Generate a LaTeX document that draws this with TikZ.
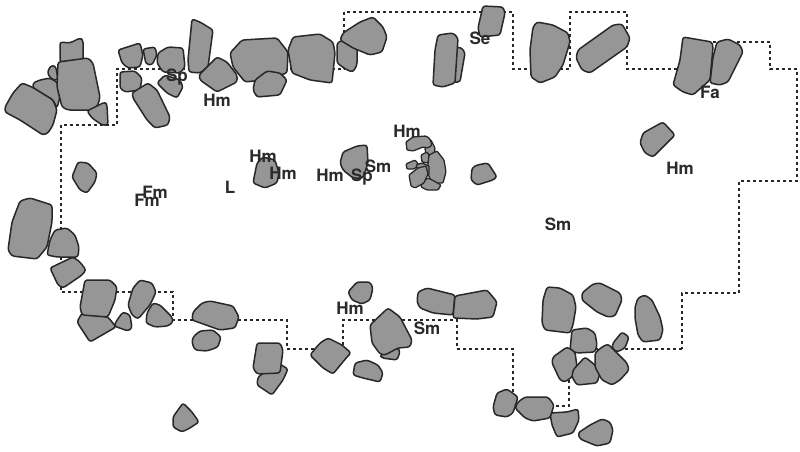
\documentclass[tikz,border=0pt]{standalone}
\usepackage{fontspec}
\setmainfont{TeX Gyre Heros}
\definecolor{stonefill}{RGB}{150,150,150}
\definecolor{stoneline}{RGB}{40,40,40}
\definecolor{labelcol}{RGB}{42,42,42}
\tikzset{
  stone/.style={fill=stonefill, draw=stoneline, line width=1.5pt, rounded corners=2.5pt, line join=round},
  pebble/.style={stone, line width=1.3pt, rounded corners=1pt},
  outline/.style={draw=stoneline, line width=1.2pt, dash pattern=on 3pt off 3pt},
  lab/.style={font=\fontsize{17}{17}\selectfont\bfseries, text=labelcol, inner sep=0pt}
}
\begin{document}
\begin{tikzpicture}[x=1pt,y=-1pt]
\useasboundingbox (0,0) rectangle (800,452);
% excavation outline
\draw[outline] (682,349) -- (569,349) -- (569,406) -- (513,406) -- (513,349) -- (457,349) -- (457,320) -- (343,320) -- (343,349) -- (287,349) -- (287,320) -- (173,320) -- (173,292) -- (61,292) -- (61,125) -- (117,125) -- (117,69) -- (344,69) -- (344,12) -- (513,12) -- (513,69) -- (570,69) -- (570,12) -- (627,12) -- (627,69) -- (710,69) -- (710,42) -- (770,42) -- (770,69) -- (797,69) -- (797,181) -- (739,181) -- (739,293) -- (682,293) -- cycle;
% top-left stones
\draw[stone] (33,83) -- (40,80) -- (50,78) -- (58,83) -- (60,97) -- (57,108) -- (53,100) -- (33,88) -- cycle;
\draw[stone] (5,107) -- (13,93) -- (22,83) -- (32,87) -- (53,100) -- (57,110) -- (53,125) -- (48,133) -- (43,135) -- (20,120) -- (5,112) -- cycle;
\draw[stone] (48,70) -- (52,65) -- (56,67) -- (58,80) -- (53,80) -- (48,75) -- cycle;
\draw[stone] (60,42) -- (70,43) -- (80,38) -- (83,40) -- (83,60) -- (60,62) -- cycle;
\draw[stone] (58,62) -- (88,58) -- (93,63) -- (100,97) -- (98,105) -- (93,110) -- (68,110) -- (62,107) -- (57,87) -- cycle;
\draw[stone] (87,111) -- (105,102) -- (107,105) -- (108,125) -- (102,125) -- (92,118) -- cycle;
\draw[stone] (118,50) -- (140,43) -- (143,55) -- (140,67) -- (128,68) -- (122,63) -- cycle;
\draw[stone] (143,49) -- (155,47) -- (157,55) -- (152,65) -- (146,64) -- cycle;
\draw[stone] (158,53) -- (168,47) -- (183,48) -- (185,67) -- (180,73) -- (163,72) -- (157,63) -- cycle;
\draw[stone] (192,19) -- (200,22) -- (213,30) -- (208,67) -- (200,73) -- (189,72) -- (188,60) -- cycle;
\draw[stone] (120,72) -- (135,71) -- (142,78) -- (140,90) -- (125,92) -- (120,88) -- cycle;
\draw[stone] (157,83) -- (165,75) -- (180,80) -- (183,87) -- (177,98) -- (167,93) -- cycle;
\draw[stone] (132,93) -- (148,83) -- (157,90) -- (170,117) -- (168,125) -- (155,128) -- (147,120) -- (133,98) -- cycle;
\draw[stone] (199,75) -- (217,57) -- (227,62) -- (237,75) -- (237,82) -- (217,92) -- (200,80) -- cycle;
\draw[stone] (230,53) -- (242,40) -- (277,38) -- (288,52) -- (287,73) -- (263,80) -- (245,82) -- (233,67) -- cycle;
\draw[stone] (255,80) -- (267,71) -- (280,73) -- (287,80) -- (280,95) -- (257,97) -- (253,90) -- cycle;
\draw[stone] (293,37) -- (320,34) -- (333,42) -- (335,53) -- (332,83) -- (310,80) -- (292,73) -- (288,50) -- cycle;
\draw[stone] (337,43) -- (343,40) -- (357,48) -- (357,65) -- (353,72) -- (347,70) -- (337,63) -- cycle;
\draw[stone] (343,33) -- (360,22) -- (373,17) -- (383,27) -- (387,37) -- (382,52) -- (370,55) -- (353,48) -- (340,40) -- cycle;
% middle stones
\draw[stone] (72,177) -- (78,162) -- (88,163) -- (97,173) -- (95,182) -- (87,193) -- (80,190) -- cycle;
\draw[stone] (257,163) -- (263,157) -- (275,160) -- (279,173) -- (277,183) -- (265,188) -- (253,183) -- cycle;
\draw[stone] (343,152) -- (357,146) -- (367,145) -- (368,163) -- (363,178) -- (353,178) -- (343,170) -- (340,163) -- cycle;
% top-right stones
\draw[stone] (483,6) -- (503,7) -- (505,13) -- (500,35) -- (480,37) -- (478,28) -- cycle;
\draw[stone] (455,47) -- (462,48) -- (465,53) -- (460,82) -- (453,82) -- cycle;
\draw[stone] (438,35) -- (453,33) -- (458,38) -- (455,83) -- (443,87) -- (433,85) -- (435,50) -- cycle;
\draw[stone] (537,22) -- (553,25) -- (568,33) -- (570,42) -- (563,65) -- (555,77) -- (540,83) -- (531,77) -- (530,50) -- (533,27) -- cycle;
\draw[stone] (578,50) -- (613,25) -- (622,24) -- (630,38) -- (627,47) -- (590,73) -- (582,70) -- (576,58) -- cycle;
\draw[stone] (683,37) -- (712,42) -- (713,47) -- (710,80) -- (702,87) -- (693,95) -- (683,92) -- (673,85) -- (680,60) -- cycle;
\draw[stone] (717,42) -- (728,39) -- (740,45) -- (743,52) -- (728,82) -- (720,85) -- (710,83) -- (713,57) -- cycle;
\draw[stone] (643,133) -- (663,122) -- (675,135) -- (653,157) -- (645,153) -- (640,143) -- cycle;
\draw[stone] (472,168) -- (477,165) -- (488,163) -- (497,177) -- (493,180) -- (477,185) -- (471,180) -- cycle;
% central cluster
\draw[pebble] (424,143) -- (431,140) -- (435,148) -- (434,156) -- (426,154) -- cycle;
\draw[pebble] (406,142) -- (413,137) -- (426,136) -- (430,139) -- (432,145) -- (428,148) -- (423,147) -- (413,151) -- (407,150) -- cycle;
\draw[pebble] (421,155) -- (427,152) -- (430,157) -- (428,163) -- (422,162) -- cycle;
\draw[pebble] (429,155) -- (437,151) -- (444,160) -- (446,172) -- (443,183) -- (432,183) -- (427,172) -- (428,164) -- cycle;
\draw[pebble] (406,164) -- (415,160) -- (419,165) -- (414,169) -- (407,169) -- cycle;
\draw[pebble] (416,165) -- (422,163) -- (429,166) -- (429,175) -- (421,176) -- cycle;
\draw[pebble] (422,182) -- (428,178) -- (434,181) -- (441,185) -- (438,190) -- (427,190) -- (421,187) -- cycle;
\draw[pebble] (409,175) -- (418,168) -- (426,166) -- (428,174) -- (424,183) -- (415,188) -- (411,186) -- cycle;
% lower-left stones
\draw[stone] (20,201) -- (30,198) -- (52,205) -- (52,222) -- (47,247) -- (37,259) -- (12,256) -- (8,250) -- (12,222) -- cycle;
\draw[stone] (55,230) -- (67,228) -- (75,235) -- (79,247) -- (78,257) -- (57,257) -- (47,255) -- (50,240) -- cycle;
\draw[stone] (50,268) -- (73,257) -- (80,262) -- (86,270) -- (82,275) -- (63,288) -- (58,285) -- cycle;
\draw[stone] (82,313) -- (108,317) -- (116,327) -- (90,342) -- (77,322) -- cycle;
\draw[stone] (85,280) -- (110,280) -- (117,287) -- (115,300) -- (108,317) -- (82,315) -- (80,307) -- cycle;
\draw[stone] (117,320) -- (123,312) -- (130,315) -- (132,328) -- (128,331) -- (114,326) -- cycle;
\draw[stone] (128,305) -- (133,288) -- (140,280) -- (152,283) -- (156,292) -- (150,305) -- (138,319) -- (132,315) -- cycle;
\draw[stone] (147,313) -- (153,303) -- (160,305) -- (172,317) -- (173,322) -- (168,326) -- (155,327) -- (146,323) -- cycle;
\draw[stone] (193,312) -- (202,303) -- (210,301) -- (233,306) -- (239,317) -- (235,328) -- (220,330) -- (192,320) -- cycle;
\draw[stone] (193,337) -- (200,331) -- (213,330) -- (221,337) -- (218,347) -- (207,351) -- (195,350) -- (192,343) -- cycle;
\draw[stone] (258,377) -- (278,363) -- (288,369) -- (283,380) -- (272,395) -- (257,385) -- cycle;
\draw[stone] (257,343) -- (280,343) -- (283,350) -- (280,373) -- (257,374) -- (253,368) -- cycle;
\draw[stone] (310,355) -- (320,343) -- (328,338) -- (342,345) -- (351,353) -- (347,357) -- (333,374) -- (323,368) -- cycle;
\draw[stone] (348,292) -- (357,282) -- (370,282) -- (373,288) -- (370,300) -- (362,304) -- (352,300) -- cycle;
\draw[stone] (355,363) -- (367,360) -- (378,365) -- (383,373) -- (380,382) -- (363,378) -- (353,375) -- cycle;
\draw[stone] (380,355) -- (398,348) -- (400,352) -- (397,360) -- (382,358) -- cycle;
\draw[stone] (370,325) -- (388,308) -- (400,317) -- (412,340) -- (410,347) -- (398,348) -- (385,355) -- (380,354) -- (372,343) -- cycle;
\draw[stone] (173,417) -- (183,403) -- (192,412) -- (199,422) -- (190,428) -- (182,432) -- (173,427) -- cycle;
% lower-right stones
\draw[stone] (418,292) -- (427,288) -- (455,295) -- (453,315) -- (433,313) -- (420,308) -- (417,302) -- cycle;
\draw[stone] (455,296) -- (487,290) -- (497,302) -- (493,317) -- (477,319) -- (453,318) -- cycle;
\draw[stone] (547,287) -- (560,288) -- (573,295) -- (576,307) -- (573,325) -- (570,333) -- (545,330) -- (542,323) -- (543,300) -- cycle;
\draw[stone] (582,293) -- (593,284) -- (600,283) -- (620,293) -- (622,300) -- (615,316) -- (608,317) -- (597,312) -- (582,300) -- cycle;
\draw[stone] (635,307) -- (638,298) -- (645,295) -- (652,300) -- (660,317) -- (663,330) -- (660,340) -- (643,342) -- (638,335) -- (635,318) -- cycle;
\draw[stone] (572,330) -- (587,328) -- (595,333) -- (597,345) -- (595,352) -- (577,353) -- (570,350) -- cycle;
\draw[stone] (613,343) -- (622,332) -- (629,337) -- (625,348) -- (617,352) -- (612,348) -- cycle;
\draw[stone] (553,357) -- (567,347) -- (575,352) -- (577,367) -- (572,377) -- (565,382) -- (560,380) -- (552,363) -- cycle;
\draw[stone] (573,370) -- (585,357) -- (595,365) -- (600,373) -- (597,383) -- (577,385) -- (572,377) -- cycle;
\draw[stone] (595,353) -- (602,347) -- (608,344) -- (627,363) -- (629,370) -- (620,380) -- (612,385) -- (602,380) -- (595,367) -- cycle;
\draw[stone] (497,393) -- (507,389) -- (518,397) -- (513,413) -- (507,417) -- (495,415) -- (493,407) -- cycle;
\draw[stone] (550,413) -- (567,412) -- (578,409) -- (579,420) -- (573,433) -- (557,437) -- (552,425) -- cycle;
\draw[stone] (518,402) -- (525,397) -- (548,397) -- (554,405) -- (550,418) -- (533,421) -- (525,418) -- (515,408) -- cycle;
\draw[stone] (578,433) -- (590,425) -- (602,419) -- (610,422) -- (613,430) -- (610,443) -- (597,446) -- (580,439) -- cycle;
% labels
\node[lab] (l1) at (177,77) {Sp};
\node[lab] (l2) at (217,100) {Hm};
\node[lab] (l3) at (263,156) {Hm};
\node[lab] (l4) at (283,173) {Hm};
\node[lab] (l5) at (330,175) {Hm};
\node[lab] (l6) at (362,177) {Sp};
\node[lab] (l7) at (378,166) {Sm};
\node[lab] (l8) at (155,192) {Fm};
\node[lab] (l9) at (147,200) {Fm};
\node[lab] (l10) at (230,187) {L};
\node[lab] (l11) at (480,38) {Se};
\node[lab] (l12) at (407,131) {Hm};
\node[lab] (l13) at (710,92) {Fa};
\node[lab] (l14) at (680,168) {Hm};
\node[lab] (l15) at (558,224) {Sm};
\node[lab] (l16) at (350,308) {Hm};
\node[lab] (l17) at (427,328) {Sm};
\end{tikzpicture}
\end{document}
